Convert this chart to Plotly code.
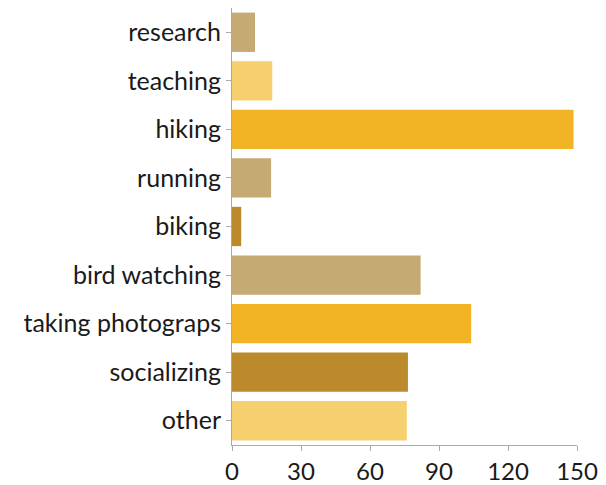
import plotly.graph_objects as go

categories = ["research", "teaching", "hiking", "running", "biking",
              "bird watching", "taking photograps", "socializing", "other"]
values = [10, 17.5, 148.5, 17, 4, 82, 104, 76.5, 76]
colors = ["#c5aa74", "#f6cf6f", "#f2b325", "#c5aa74", "#bc8a2d",
          "#c5aa74", "#f2b325", "#bc8a2d", "#f6cf6f"]
x_ticks = [0, 30, 60, 90, 120, 150]

fig = go.Figure(go.Bar(
    x=values, y=categories, orientation="h",
    marker=dict(color=colors, line=dict(width=0)),
))

fig.update_layout(
    width=590, height=477,
    margin=dict(l=224, r=21, t=0, b=37),
    paper_bgcolor="white", plot_bgcolor="white",
    bargap=0.19,
    showlegend=False,
    font=dict(family="Lato, Open Sans, sans-serif", size=25, color="#1a1a1a"),
)
fig.update_xaxes(
    range=[0, 150], tickvals=x_ticks, ticktext=[str(t) for t in x_ticks],
    showgrid=False, zeroline=False,
    showline=True, linecolor="#aaaaaa", linewidth=1,
    ticks="outside", ticklen=5, tickcolor="#aaaaaa",
    tickfont=dict(size=24),
)
fig.update_yaxes(
    autorange="reversed", showgrid=False, zeroline=False,
    showline=True, linecolor="#aaaaaa", linewidth=1,
    ticks="outside", ticklen=5, tickcolor="#aaaaaa",
    tickfont=dict(size=25),
)

fig.write_html("out.html")
